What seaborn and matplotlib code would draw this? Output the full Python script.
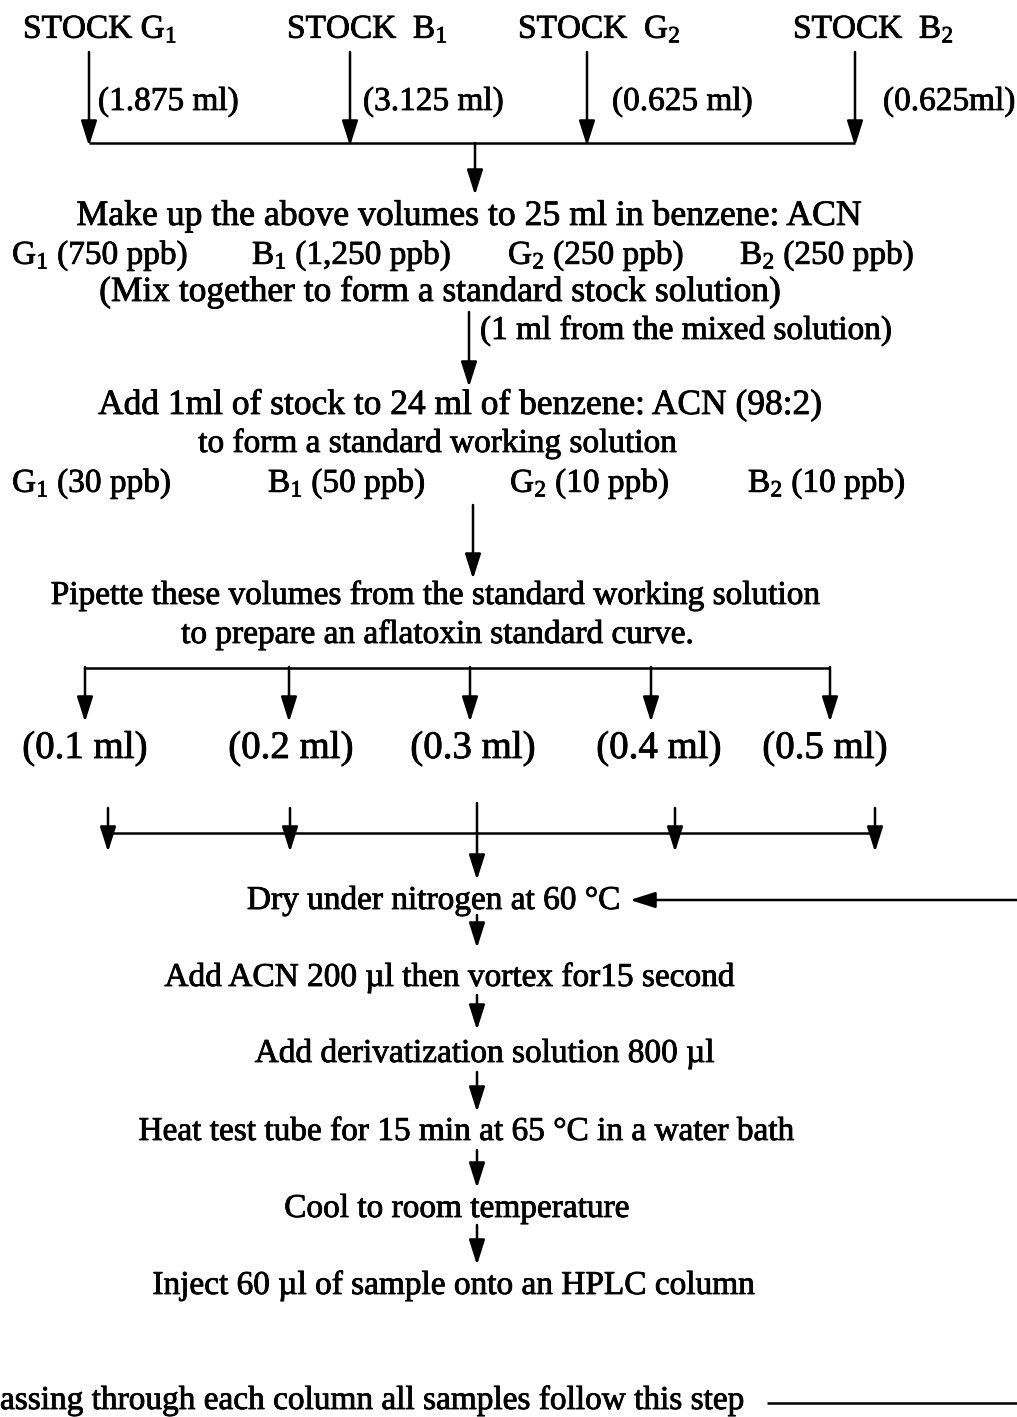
import matplotlib
matplotlib.use("Agg")
import matplotlib.pyplot as plt
import matplotlib.patheffects as pe
import seaborn as sns

# flowchart content
stock_labels = ["STOCK G$_1$", "STOCK  B$_1$", "STOCK  G$_2$", "STOCK  B$_2$"]
stock_volumes = ["(1.875 ml)", "(3.125 ml)", "(0.625 ml)", "(0.625ml)"]
stock_conc = ["G$_1$ (750 ppb)", "B$_1$ (1,250 ppb)", "G$_2$ (250 ppb)", "B$_2$ (250 ppb)"]
working_conc = ["G$_1$ (30 ppb)", "B$_1$ (50 ppb)", "G$_2$ (10 ppb)", "B$_2$ (10 ppb)"]
pipette_volumes = ["(0.1 ml)", "(0.2 ml)", "(0.3 ml)", "(0.4 ml)", "(0.5 ml)"]
stock_text = ["Make up the above volumes to 25 ml in benzene: ACN",
              "(Mix together to form a standard stock solution)"]
mixed_label = "(1 ml from the mixed solution)"
working_text = ["Add 1ml of stock to 24 ml of benzene: ACN (98:2)",
                "to form a standard working solution"]
pipette_text = ["Pipette these volumes from the standard working solution",
                "to prepare an aflatoxin standard curve."]
steps = ["Dry under nitrogen at 60 \u00b0C",
         "Add ACN 200 \u00b5l then vortex for15 second",
         "Add derivatization solution 800 \u00b5l",
         "Heat test tube for 15 min at 65 \u00b0C in a water bath",
         "Cool to room temperature",
         "Inject 60 \u00b5l of sample onto an HPLC column"]
footer = "assing through each column all samples follow this step"

# layout (pixel coordinates)
stock_x = [23, 287, 518, 793]
stock_arrow_x = [89, 350, 587, 855]
stock_vol_x = [98, 363, 612, 883]
conc_x = [12, 252, 508, 740]
work_x = [12, 268, 510, 748]
pip_arrow_x = [85, 289, 470, 651, 830]
pip_label_x = [85, 291, 473, 659, 825]
low_x = [108, 290, 477, 675, 875]
step_cx = [434, 450, 485, 467, 457, 454]
step_y = [909, 986, 1062, 1140, 1217, 1294]

sns.set_style("white")
plt.rcParams["font.family"] = ["Liberation Serif", "DejaVu Serif"]
plt.rcParams["mathtext.fontset"] = "custom"
plt.rcParams["mathtext.rm"] = "Liberation Serif"
plt.rcParams["mathtext.it"] = "Liberation Serif:italic"

fig = plt.figure(figsize=(10.17, 14.17), dpi=100)
ax = fig.add_axes([0, 0, 1, 1])
ax.set_xlim(0, 1017)
ax.set_ylim(1417, 0)
ax.axis("off")

FS = 24
LW = 1.8
bold = [pe.withStroke(linewidth=0.6, foreground="black")]


def txt(x, y, s, ha="left", fs=FS):
    ax.text(x, y, s, fontsize=fs, ha=ha, va="baseline", color="black",
            path_effects=bold)


def arrow(x0, y0, x1, y1, ms=14):
    ax.annotate("", xy=(x1, y1), xytext=(x0, y0),
                arrowprops=dict(arrowstyle="-|>,head_length=1.1,head_width=0.35",
                                color="black", lw=LW, mutation_scale=ms,
                                shrinkA=0, shrinkB=0))


def line(xs, ys):
    ax.plot(xs, ys, color="black", lw=LW, solid_capstyle="butt")


# stocks
for x, s in zip(stock_x, stock_labels):
    txt(x, 38, s)
for x in stock_arrow_x:
    arrow(x, 52, x, 146)
for x, s in zip(stock_vol_x, stock_volumes):
    txt(x, 110, s)
line([stock_arrow_x[0], stock_arrow_x[-1]], [143, 143])
arrow(475, 143, 475, 195)

txt(468, 225, stock_text[0], ha="center", fs=25.7)
for x, s in zip(conc_x, stock_conc):
    txt(x, 264, s)
txt(440, 301, stock_text[1], ha="center", fs=25.5)

arrow(469, 312, 469, 387)
txt(480, 339, mixed_label)

txt(460, 414, working_text[0], ha="center", fs=25.5)
txt(438, 452, working_text[1], ha="center")
for x, s in zip(work_x, working_conc):
    txt(x, 492, s)

arrow(473, 505, 473, 579)
txt(436, 604, pipette_text[0], ha="center")
txt(438, 643, pipette_text[1], ha="center")

line([pip_arrow_x[0], pip_arrow_x[-1]], [668, 668])
for x in pip_arrow_x:
    arrow(x, 667, x, 722)
for x, s in zip(pip_label_x, pipette_volumes):
    txt(x, 758, s, ha="center", fs=28)

line([low_x[0], low_x[-1]], [833, 833])
for x in low_x:
    if x == 477:
        continue
    arrow(x, 808, x, 852)
arrow(477, 803, 477, 880)

for cx, y, s in zip(step_cx, step_y, steps):
    txt(cx, y, s, ha="center")

arrow(1017, 900, 630, 900)
for y0, y1 in [(915, 948), (995, 1030), (1072, 1112), (1150, 1188), (1225, 1265)]:
    arrow(477, y0, 477, y1)

txt(0, 1409, footer)
line([767, 1017], [1403, 1403])

fig.savefig("out.png", dpi=100)
